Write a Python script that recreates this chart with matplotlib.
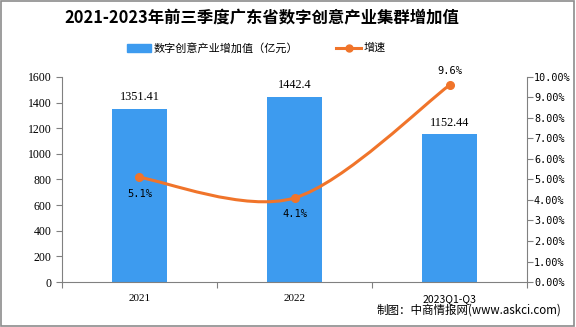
import numpy as np
import matplotlib
matplotlib.use('Agg')
from matplotlib import pyplot as plt
from matplotlib.path import Path
from matplotlib.patches import PathPatch, Rectangle
from matplotlib.lines import Line2D

plt.rcParams['font.family'] = ['Noto Sans CJK SC', 'DejaVu Sans']

years = ['2021', '2022', '2023Q1-Q3']
value = [1351.41, 1442.4, 1152.44]
growth = [5.1, 4.1, 9.6]
value_labels = ['1351.41', '1442.4', '1152.44']
growth_labels = ['5.1%', '4.1%', '9.6%']

bar_c = '#3D9BEF'
line_c = '#F0742A'

fig = plt.figure(figsize=(5.76, 3.27), dpi=100)
fig.patches.append(Rectangle((0.002, 0.003), 0.995, 0.994, transform=fig.transFigure,
                             fill=False, edgecolor='#8c8c8c', lw=1.2))

ax = fig.add_axes([0.1076, 0.1376, 0.8074, 0.627])
x = np.arange(len(years))
ax.bar(x, value, width=0.355, color=bar_c, zorder=2)
ax.set_xlim(-0.5, 2.5)
ax.set_ylim(0, 1600)
ax.set_yticks(np.arange(0, 1601, 200))
for s in ['top', 'right']:
    ax.spines[s].set_visible(False)
for s in ['left', 'bottom']:
    ax.spines[s].set_color('#808080')
ax.tick_params(axis='y', colors='#808080', labelcolor='black', length=4, labelsize=8.5)
ax.set_yticklabels([str(v) for v in range(0, 1601, 200)], family='Liberation Serif')
ax.set_xticks([-0.5, 0.5, 1.5, 2.5], minor=False)
ax.set_xticklabels([])
ax.tick_params(axis='x', colors='#808080', length=4)
for i, lab in enumerate(years):
    fam = 'Liberation Serif' if i < 2 else 'Noto Sans CJK SC'
    ax.text(i, -0.06, lab, transform=ax.get_xaxis_transform(), ha='center', va='top',
            fontsize=8 if i < 2 else 7.5, family=fam)
for i, v in enumerate(value):
    ax.text(i, v + 45, value_labels[i], ha='center', va='bottom', fontsize=8.8,
            family='Liberation Serif')

ax2 = ax.twinx()
ax2.set_ylim(0, 10)
ax2.set_yticks(np.arange(0, 10.01, 1))
ax2.set_yticklabels(['%.2f%%' % v for v in np.arange(0, 10.01, 1)], family='DejaVu Sans Mono')
ax2.tick_params(axis='y', colors='#808080', labelcolor='black', length=4, labelsize=7.3, pad=1)
for s in ['top', 'left', 'bottom']:
    ax2.spines[s].set_visible(False)
ax2.spines['right'].set_color('#808080')

# smooth curve through the growth points (cubic bezier, catmull-rom style)
pts = list(zip(x.astype(float), growth))
k = 0.16
verts = [pts[0]]
codes = [Path.MOVETO]
for i in range(len(pts) - 1):
    p0 = pts[i - 1] if i > 0 else pts[i]
    p1 = pts[i]
    p2 = pts[i + 1]
    p3 = pts[i + 2] if i + 2 < len(pts) else pts[i + 1]
    c1 = (p1[0] + (p2[0] - p0[0]) * k, p1[1] + (p2[1] - p0[1]) * k)
    c2 = (p2[0] - (p3[0] - p1[0]) * k, p2[1] - (p3[1] - p1[1]) * k)
    verts += [c1, c2, p2]
    codes += [Path.CURVE4] * 3
ax2.add_patch(PathPatch(Path(verts, codes), fill=False, edgecolor=line_c, lw=2.2, zorder=3))
ax2.plot(x, growth, 'o', color=line_c, ms=5.5, zorder=4)
offs = [-0.55, -0.55, 0.45]
for i, g in enumerate(growth):
    ax2.text(i, g + offs[i], growth_labels[i], ha='center', va='top' if offs[i] < 0 else 'bottom',
             fontsize=7.5, family='DejaVu Sans Mono')

fig.text(0.455, 0.945, '2021-2023年前三季度广东省数字创意产业集群增加值', ha='center', va='center',
         fontsize=11.8, fontweight='bold', family=['Noto Sans CJK SC', 'DejaVu Sans'])

# legend
fig.patches.append(Rectangle((127 / 576, 1 - 52 / 327), 24 / 576, 8 / 327, transform=fig.transFigure,
                             color=bar_c))
fig.text(154 / 576, 1 - 48 / 327, '数字创意产业增加值（亿元）', va='center', fontsize=8)
fig.lines.append(Line2D([336 / 576, 361 / 576], [1 - 48 / 327] * 2, transform=fig.transFigure,
                        color=line_c, lw=2.2))
fig.lines.append(Line2D([348.5 / 576], [1 - 48 / 327], transform=fig.transFigure,
                        color=line_c, marker='o', ms=5))
fig.text(364 / 576, 1 - 48 / 327, '增速', va='center', fontsize=8)

fig.text(0.975, 1 - 310 / 327, '制图：中商情报网(www.askci.com)', ha='right', va='center', fontsize=8.3)

plt.savefig('out.png', dpi=100)
